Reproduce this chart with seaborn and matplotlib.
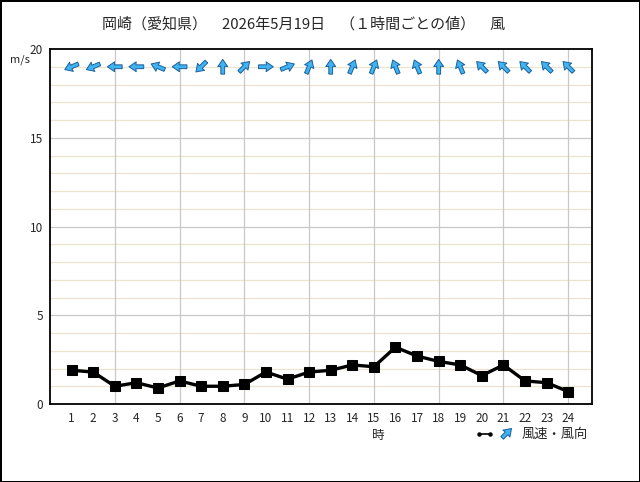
import numpy as np
import pandas as pd
import matplotlib.pyplot as plt
import seaborn as sns
from matplotlib.lines import Line2D

# hourly values
hours = list(range(1, 25))
speed = [1.9, 1.8, 1.0, 1.2, 0.9, 1.3, 1.0, 1.0, 1.1, 1.8, 1.4, 1.8,
         1.9, 2.2, 2.1, 3.2, 2.7, 2.4, 2.2, 1.6, 2.2, 1.3, 1.2, 0.7]
# direction the wind comes from (16 points)
direction = ['ENE', 'ENE', 'E', 'E', 'ESE', 'E', 'NE', 'S', 'SW', 'W', 'WSW', 'SSW',
             'S', 'SSW', 'SSW', 'SSE', 'SSE', 'S', 'SSE', 'SE', 'SE', 'SE', 'SE', 'SE']
y_ticks = [0, 5, 10, 15, 20]
title = '岡崎（愛知県）　2026年5月19日　（１時間ごとの値）　風'

points = ['N', 'NNE', 'NE', 'ENE', 'E', 'ESE', 'SE', 'SSE',
          'S', 'SSW', 'SW', 'WSW', 'W', 'WNW', 'NW', 'NNW']

df = pd.DataFrame({'hour': hours, 'speed': speed, 'dir': direction})
# compass bearing the wind blows toward, then unit vector (east, north)
bearing = np.deg2rad([(points.index(d) * 22.5 + 180) % 360 for d in direction])
df['u'] = np.sin(bearing)
df['v'] = np.cos(bearing)

sns.set_style('white')
plt.rcParams['font.family'] = ['Noto Sans CJK JP', 'DejaVu Sans']

fig = plt.figure(figsize=(6.4, 4.82), dpi=100)
fig.patch.set_edgecolor('black')
fig.patch.set_linewidth(2)
ax = fig.add_axes([50 / 640, 78 / 482, 542 / 640, 355 / 482])

# grid
for y in range(1, 20):
    ax.axhline(y, color='#c8c8c8' if y % 5 == 0 else '#ebe4cf', lw=0.9, zorder=0)
for x in range(3, 25, 3):
    ax.axvline(x, color='#c8c8c8', lw=0.9, zorder=0)

sns.lineplot(data=df, x='hour', y='speed', ax=ax, color='black', lw=2.4,
             marker='s', markersize=6.5, markeredgecolor='black', zorder=3)

# wind direction arrows on the 19 m/s row
arrow_kw = dict(units='inches', width=0.038, headwidth=2.6, headlength=1.9,
                headaxislength=1.8, color='#3fb4f0', edgecolor='#1a5f9e',
                linewidth=0.7)
q = ax.quiver(df['hour'], [19] * len(df), df['u'], df['v'], pivot='middle',
              scale=6.8, zorder=4, **arrow_kw)

ax.set_xlim(0, 25.1)
ax.set_ylim(0, 20)
ax.set_xticks(hours)
ax.set_xticklabels([str(h) for h in hours])
ax.set_yticks(y_ticks)
ax.tick_params(axis='both', length=0, labelsize=8.5)
ax.tick_params(axis='x', pad=6)
ax.tick_params(axis='y', pad=5)
ax.set_xlabel('')
ax.set_ylabel('')
for s in ax.spines.values():
    s.set_color('black')
    s.set_linewidth(1.3)

fig.text(304 / 640, 1 - 24 / 482, title, ha='center', va='center', fontsize=10.8)
fig.text(20 / 640, 1 - 60 / 482, 'm/s', ha='center', va='center', fontsize=8)
fig.text(378 / 640, 1 - 435 / 482, '時', ha='center', va='center', fontsize=9)

# legend: line symbol, arrow key, label
fig.add_artist(Line2D([479 / 640, 490 / 640], [1 - 434 / 482] * 2, color='black',
                      lw=1.2, marker='o', markersize=2.2, transform=fig.transFigure))
ax.quiverkey(q, 511 / 640, 1 - 428 / 482, 0.9, '', coordinates='figure',
             angle=45, labelpos='E')
fig.text(522 / 640, 1 - 434 / 482, '風速・風向', ha='left', va='center', fontsize=9.5)

fig.savefig('out.png', dpi=100)
